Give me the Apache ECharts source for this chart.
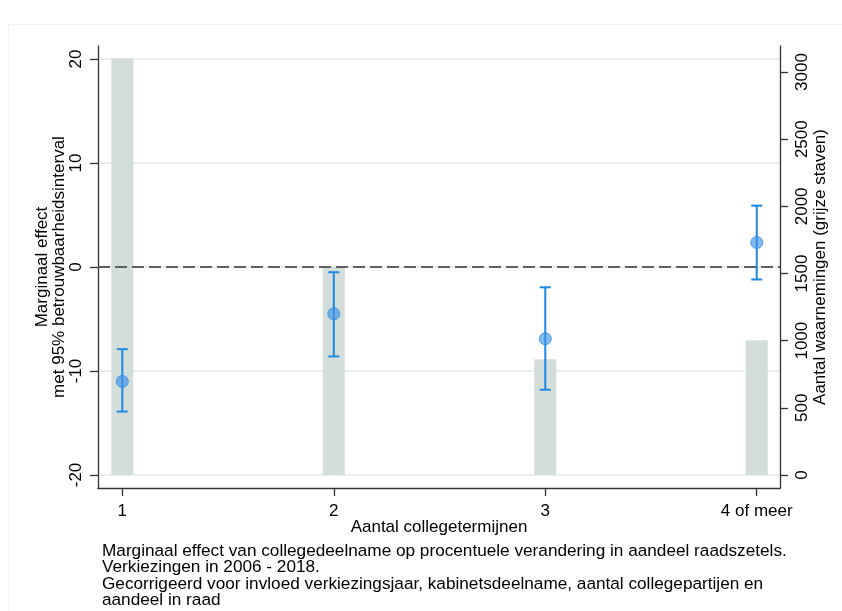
<!DOCTYPE html>
<html>
<head>
<meta charset="utf-8">
<script src="https://cdn.jsdelivr.net/npm/echarts@6/dist/echarts.min.js"></script>
<style>
html,body{margin:0;padding:0;background:#fff;}
#chart{width:842px;height:611px;}
</style>
</head>
<body>
<div id="chart"></div>
<script>
// ---- data ----
const categories = ['1', '2', '3', '4 of meer'];
const xPositions = [1, 2, 3, 4];
const effect = [-11.0, -4.5, -6.9, 2.35];
const ciLower = [-13.9, -8.6, -11.8, -1.2];
const ciUpper = [-7.9, -0.5, -1.95, 5.9];
const observations = [3100, 1550, 862, 1004];
const leftTicks = [-20, -10, 0, 10, 20];
const rightTicks = [0, 500, 1000, 1500, 2000, 2500, 3000];
const captionLines = [
  'Marginaal effect van collegedeelname op procentuele verandering in aandeel raadszetels.',
  'Verkiezingen in 2006 - 2018.',
  'Gecorrigeerd voor invloed verkiezingsjaar, kabinetsdeelname, aantal collegepartijen en',
  'aandeel in raad'
];

const FONT = '"Liberation Sans", Arial, Helvetica, sans-serif';
const BLUE = '#1e88e5';

const chart = echarts.init(document.getElementById('chart'), null, {renderer: 'canvas'});

const option = {
  backgroundColor: '#ffffff',
  animation: false,
  textStyle: {fontFamily: FONT, color: '#000'},
  title: {
    text: captionLines.join('\n'),
    left: 97,
    top: 538,
    textStyle: {fontFamily: FONT, fontSize: 17.2, fontWeight: 'normal', color: '#000', lineHeight: 16.4}
  },
  graphic: [{
    type: 'rect',
    shape: {x: 8.5, y: 24.5, width: 900, height: 700},
    style: {fill: 'none', stroke: '#f2f2f2', lineWidth: 1},
    silent: true, z: -10
  }],
  grid: {left: 98, right: 62, top: 46, bottom: 123, containLabel: false},
  xAxis: {
    type: 'value',
    min: 0.885,
    max: 4.11,
    name: 'Aantal collegetermijnen',
    nameLocation: 'middle',
    nameGap: 31,
    nameMoveOverlap: false,
    nameTextStyle: {fontFamily: FONT, fontSize: 17, color: '#000'},
    axisLine: {show: true, onZero: false, lineStyle: {color: '#333', width: 1.3}},
    axisTick: {show: true, length: 8, customValues: xPositions, lineStyle: {color: '#333', width: 1.3}},
    axisLabel: {
      customValues: xPositions,
      fontFamily: FONT, fontSize: 17, color: '#000', margin: 15,
      formatter: v => categories[xPositions.indexOf(v)]
    },
    splitLine: {show: false}
  },
  yAxis: [{
    type: 'value',
    min: -21.25,
    max: 21.25,
    position: 'left',
    name: 'Marginaal effect\nmet 95% betrouwbaarheidsinterval',
    nameLocation: 'middle',
    nameRotate: 90,
    nameGap: 30,
    nameMoveOverlap: false,
    nameTextStyle: {fontFamily: FONT, fontSize: 17, color: '#000', lineHeight: 17},
    axisLine: {show: true, onZero: false, lineStyle: {color: '#333', width: 1.3}},
    axisTick: {show: true, length: 8, customValues: leftTicks, lineStyle: {color: '#333', width: 1.3}},
    axisLabel: {customValues: leftTicks, rotate: 90, fontFamily: FONT, fontSize: 17, color: '#000', margin: 13},
    splitLine: {show: true, lineStyle: {color: '#e9f0f0', width: 2}}
  }, {
    type: 'value',
    min: -97,
    max: 3194,
    position: 'right',
    name: 'Aantal waarnemingen (grijze staven)',
    nameLocation: 'middle',
    nameRotate: 90,
    nameGap: 32,
    nameMoveOverlap: false,
    nameTextStyle: {fontFamily: FONT, fontSize: 17, color: '#000'},
    axisLine: {show: true, onZero: false, lineStyle: {color: '#333', width: 1.3}},
    axisTick: {show: true, length: 8, customValues: rightTicks, lineStyle: {color: '#333', width: 1.3}},
    axisLabel: {customValues: rightTicks, rotate: 90, fontFamily: FONT, fontSize: 17, color: '#000', margin: 14,
      formatter: v => String(v)},
    splitLine: {show: false}
  }],
  series: [{
    type: 'bar',
    name: 'Aantal waarnemingen',
    xAxisIndex: 0,
    yAxisIndex: 1,
    barWidth: 22,
    itemStyle: {color: '#d3dedb'},
    z: 1,
    data: xPositions.map((x, i) => [x, observations[i]])
  }, {
    type: 'custom',
    name: 'CI',
    xAxisIndex: 0,
    yAxisIndex: 0,
    z: 5,
    data: xPositions.map((x, i) => [x, ciLower[i], ciUpper[i]]),
    encode: {x: 0, y: [1, 2]},
    renderItem: function (params, api) {
      const x = api.value(0);
      const lo = api.coord([x, api.value(1)]);
      const hi = api.coord([x, api.value(2)]);
      const hw = 5.5;
      const style = {stroke: BLUE, lineWidth: 2, fill: 'none'};
      return {
        type: 'group',
        children: [
          {type: 'line', shape: {x1: lo[0], y1: lo[1], x2: hi[0], y2: hi[1]}, style: style},
          {type: 'line', shape: {x1: lo[0] - hw, y1: lo[1], x2: lo[0] + hw, y2: lo[1]}, style: style},
          {type: 'line', shape: {x1: hi[0] - hw, y1: hi[1], x2: hi[0] + hw, y2: hi[1]}, style: style}
        ]
      };
    }
  }, {
    type: 'scatter',
    name: 'Marginaal effect',
    xAxisIndex: 0,
    yAxisIndex: 0,
    z: 6,
    symbol: 'circle',
    symbolSize: 12,
    itemStyle: {color: 'rgba(60,145,230,0.8)', borderColor: 'rgba(30,136,229,0.9)', borderWidth: 1},
    data: xPositions.map((x, i) => [x, effect[i]]),
    markLine: {
      silent: true,
      symbol: ['none', 'none'],
      label: {show: false},
      lineStyle: {color: '#5f5f5f', type: [12, 5], width: 1.8},
      data: [{yAxis: 0}]
    }
  }]
};

chart.setOption(option);
</script>
</body>
</html>
